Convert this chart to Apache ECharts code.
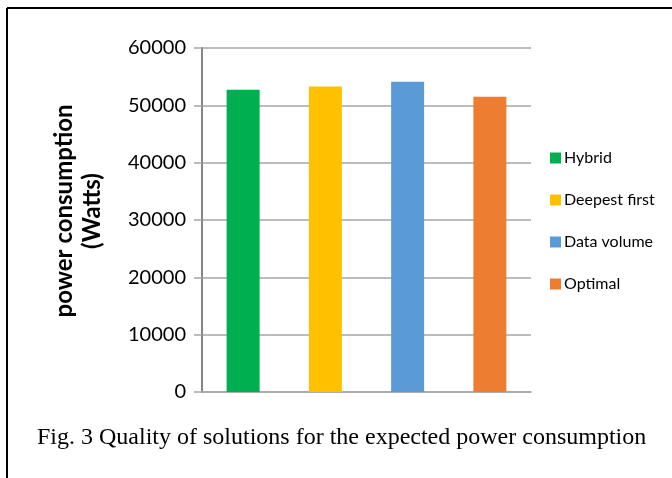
<!DOCTYPE html>
<html>
<head>
<meta charset="utf-8">
<script src="https://cdn.jsdelivr.net/npm/echarts@6/dist/echarts.min.js"></script>
<style>
    html, body { margin: 0; padding: 0; background: #fff; }
    #chart { width: 672px; height: 478px; }
</style>
</head>
<body>
<div id="chart"></div>
<script>
// 数据
const methods = ['Hybrid', 'Deepest first', 'Data volume', 'Optimal']
const power = [52700, 53300, 54100, 51500]
const barColors = ['#00b050', '#ffc000', '#5b9bd5', '#ed7d31']
const yTicks = [0, 10000, 20000, 30000, 40000, 50000, 60000]

const chart = echarts.init(document.getElementById('chart'))

// 每个方法单独一个系列，这样图例才能显示
const series = methods.map((name, i) => ({
    type: 'bar',
    name: name,
    barWidth: 33,
    barGap: '-100%',
    itemStyle: { color: barColors[i] },
    data: power.map((v, j) => (j === i ? v : '-'))
}))

const option = {
    animation: false,
    backgroundColor: '#fff',
    grid: {
        left: 202,
        right: 141,
        top: 48,
        bottom: 86
    },
    legend: {
        orient: 'vertical',
        left: 545,
        top: 145,
        itemWidth: 11,
        itemHeight: 11,
        itemGap: 26,
        icon: 'rect',
        textStyle: {
            fontFamily: 'Lato',
            fontSize: 16,
            color: '#000',
            padding: [0, 0, 0, -2]
        },
        data: methods
    },
    xAxis: {
        type: 'category',
        data: methods,
        axisLabel: { show: false },
        axisTick: { show: false },
        axisLine: {
            lineStyle: { color: '#a6a6a6', width: 1.5 }
        }
    },
    yAxis: {
        type: 'value',
        min: yTicks[0],
        max: yTicks[yTicks.length - 1],
        interval: 10000,
        name: 'power consumption\n(Watts)',
        nameLocation: 'middle',
        nameGap: 96,
        nameTextStyle: {
            fontFamily: 'Lato',
            fontWeight: 'bold',
            fontSize: 24,
            color: '#000',
            lineHeight: 28,
            padding: [0, 0, 0, 18] // 往上挪一点
        },
        axisLabel: {
            fontFamily: 'Lato',
            fontSize: 20,
            color: '#000',
            margin: 16,
            formatter: v => String(v)
        },
        axisLine: {
            show: true,
            lineStyle: { color: '#868686', width: 2 }
        },
        axisTick: {
            show: true,
            length: 8,
            lineStyle: { color: '#a6a6a6', width: 1.5 }
        },
        splitLine: {
            lineStyle: { color: '#a6a6a6', width: 1.5 }
        }
    },
    series: series,
    graphic: [
        {
            type: 'line',
            shape: { x1: 7, y1: 8, x2: 672, y2: 8 },
            style: { stroke: '#000', lineWidth: 2 }
        },
        {
            type: 'line',
            shape: { x1: 7, y1: 8, x2: 7, y2: 478 },
            style: { stroke: '#000', lineWidth: 2 }
        },
        {
            type: 'text',
            left: 37,
            top: 426,
            style: {
                text: 'Fig. 3 Quality of solutions for the expected power consumption',
                font: '24px "Liberation Serif"',
                fill: '#000'
            }
        }
    ]
}

chart.setOption(option)
</script>
</body>
</html>
